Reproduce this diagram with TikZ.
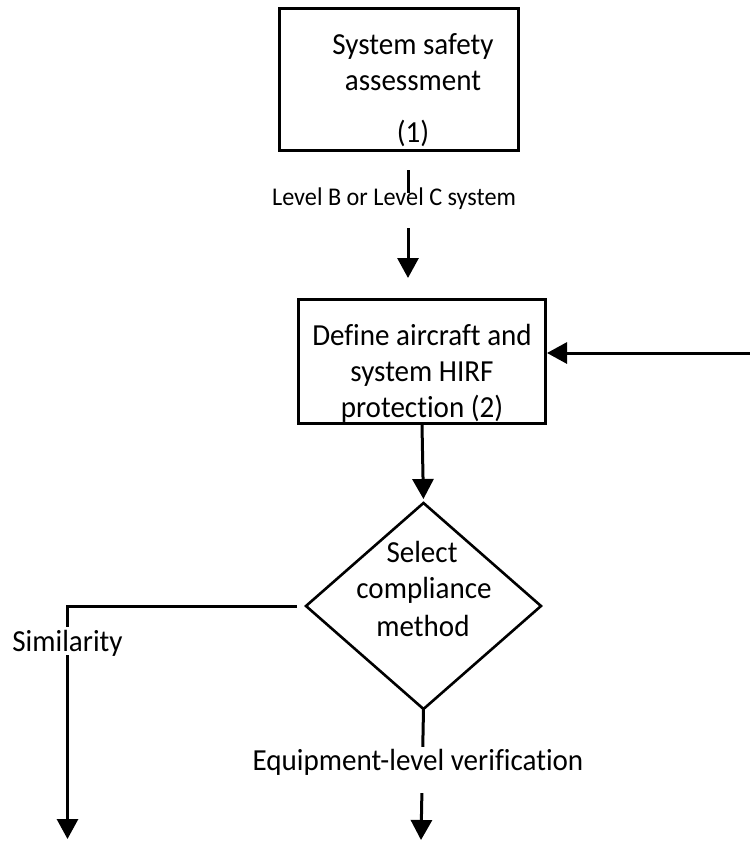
\documentclass[tikz,border=0pt]{standalone}
\usepackage{fontspec}
\setmainfont{Carlito}[Ligatures=CommonOff,FakeStretch=0.95]
\usetikzlibrary{arrows.meta,shapes.geometric}
\begin{document}
\begin{tikzpicture}[x=1pt,y=-1pt,
  box/.style={draw,line width=3pt,inner sep=0pt},
  dia/.style={draw,shape=diamond,line width=2.6pt,inner sep=0pt,outer sep=0pt},
  txt/.style={anchor=base,inner sep=0pt,font=\fontsize{30.6}{36}\selectfont},
  smalltxt/.style={anchor=base,inner sep=0pt,font=\fontsize{25.5}{30}\selectfont},
  conn/.style={line width=3pt,-{Triangle[width=21pt,length=20pt]}},
  gap/.style={fill=white}]
\useasboundingbox (0,0) rectangle (750,844);
% boxes
\node[box,minimum width=239pt,minimum height=142pt] (b1) at (398.75,79.5) {};
\node[txt] (t1a) at (413,54.5) {System safety};
\node[txt] (t1b) at (413,90) {assessment};
\node[txt] (t1c) at (413,142) {(1)};
\node[box,minimum width=247pt,minimum height=124pt] (b2) at (422,361.5) {};
\node[txt] (t2a) at (422,345) {Define aircraft and};
\node[txt] (t2b) at (422,381) {system HIRF};
\node[txt] (t2c) at (422,417) {protection (2)};
% decision
\node[dia,minimum width=235pt,minimum height=206pt] (dm) at (423.5,606) {};
\node[txt] (t3a) at (422,562) {Select};
\node[txt] (t3b) at (424,598) {compliance};
\node[txt] (t3c) at (423,636) {method};
% helper coordinates
\coordinate (x1) at (408,0);
\coordinate (rin) at (750,353);
\coordinate (simend) at (67.5,839);
\coordinate (eqend) at (421,840);
% connectors
\draw[conn,shorten <=18pt,shorten >=20pt] (b1.south -| x1) -- (b2.north -| x1);
\node[smalltxt,gap,text height=12pt,text depth=23pt] (l1) at (394,205) {Level B or Level C system};
\draw[conn] (rin) -- (rin -| b2.east);
\draw[conn,shorten >=4pt] (b2.south) -- (dm.north);
\draw[conn,shorten <=9pt] (dm.west) -| (simend);
\node[txt,gap,text height=24pt,text depth=4pt] (l2) at (67.5,651) {Similarity};
\draw[conn] (dm.south) -- (eqend);
\node[txt,gap,text height=23pt,text depth=23pt] (l3) at (418,770) {Equipment-level verification};
\end{tikzpicture}
\end{document}
